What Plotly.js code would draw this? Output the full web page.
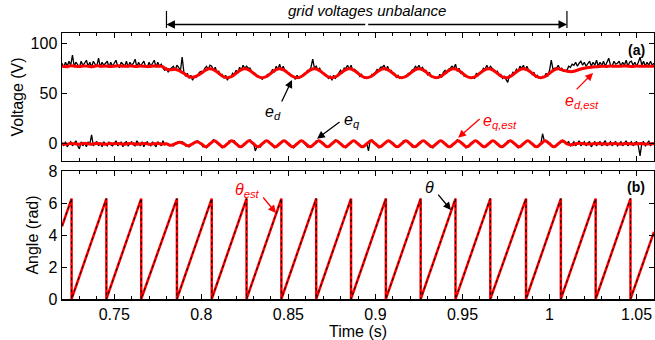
<!DOCTYPE html>
<html><head><meta charset="utf-8">
<script src="https://cdn.plot.ly/plotly-3.0.1.min.js"></script>
<style>html,body{margin:0;padding:0;background:#fff}#chart{width:655px;height:340px}</style>
</head><body><div id="chart"></div>
<script>
// sampling of the measured signals
const measStart = 0.72, measStep = 0.001;
const estStart = 0.72, estStep = 0.0025;

// e_d measured (black)
const edMeas = [
80,76,81,77,82,78,88,77,81,79,
76,82,78,80,83,77,81,76,82,79,
77,85,76,81,78,80,82,76,81,77,
80,83,77,76,81,79,77,82,76,81,
78,80,84,76,81,77,80,82,77,76,
81,77,80,83,76,81,77,79,75,73,
75,71,74,76,77,73,78,76,72,86,71,67,70,65,68,63,67,66,69,71,
72,71,75,77,74,78,77,73,76,71,72,68,69,65,68,63,67,66,70,69,
73,70,76,73,78,75,77,75,75,71,71,69,68,67,66,64,66,66,69,68,
71,74,71,77,74,79,73,77,73,72,70,69,68,67,64,68,65,66,68,69,
70,73,73,76,84,75,77,73,75,71,70,69,68,65,67,63,68,65,68,71,
73,70,75,75,78,74,78,73,74,72,71,67,69,66,65,65,66,66,69,68,
71,74,73,76,76,78,73,77,72,73,70,70,66,68,65,66,66,67,68,70,
70,73,74,77,75,78,74,76,73,73,68,71,67,66,66,65,65,69,66,71,
73,70,74,75,77,75,79,72,75,70,71,67,68,66,66,65,66,65,70,68,
71,71,75,74,78,74,77,75,73,71,72,68,69,65,67,64,61,68,67,71,
70,74,72,77,75,78,73,77,73,72,69,71,66,68,65,65,67,66,70,67,
73,83,74,75,75,78,74,75,72,73,
73,77,76,79,78,81,77,80,82,78,
81,77,80,82,77,81,78,83,77,81,
78,82,77,81,85,78,77,82,79,80,
82,77,81,78,83,77,81,82,78,81,
77,81,86,78,82,77,81,78,82,78,
80];

// e_q measured (black)
const eqMeas = [
1,-2,2,-3,0,2,-2,1,3,-2,
-5,2,-2,1,-3,2,0,9,-2,1,
2,-2,1,-3,2,0,-2,2,-1,-2,
1,3,-2,0,2,-3,1,2,-2,0,
2,-1,-2,3,0,-2,2,-3,1,2,
-1,-2,2,0,-3,2,0,-2,3,-1,
0,-1,-2,-1,-2,1,1,2,1,2,
1,-2,-2,-3,-1,0,2,2,3,1,
0,-3,-2,-4,-2,1,2,4,2,2,
-1,-2,-4,-3,-1,0,3,3,2,3,
0,-1,-3,-3,-2,-1,2,3,4,1,
1,-7,-3,-2,-3,0,1,3,3,2,
0,-2,-4,-3,-1,1,2,2,3,2,
-1,-2,-3,-4,-2,0,2,3,3,1,
0,-3,-2,-3,-2,1,3,3,2,2,
1,-2,-3,-3,-1,0,2,4,3,2,
0,-1,-3,-4,-2,0,1,3,3,2,
-1,-2,-3,-2,-2,1,-7,3,4,1,
0,-2,-4,-3,-1,0,2,3,2,2,
1,-2,-3,-3,-2,0,3,2,3,2,
0,-3,-3,-2,-2,1,2,3,3,1,
-1,-2,-3,-4,-1,0,2,3,3,2,
0,-2,-3,-3,-2,0,1,4,2,2,
1,-1,-4,-3,-2,1,2,3,3,1,
0,-2,-3,-3,-1,0,2,3,3,2,
-1,-2,-3,-2,-2,0,3,3,2,2,
0,-2,-4,-3,-1,1,2,3,3,1,
0,-2,-3,-3,-2,0,10,3,2,2,
1,-1,-3,-2,-2,0,1,2,2,1,
1,2,-2,0,2,-2,1,3,-2,0,
2,-2,1,2,-3,0,2,-2,1,2,
-2,1,3,-2,0,2,-2,1,2,-2,
0,2,-2,1,3,-2,0,2,-2,1,
2,-2,-12,1,2,-2,0,3,-2,1,
0];

// e_d estimated (red)
const edEst = [
77,76.5,77.5,77,76.8,77.3,77,76.6,77.4,77,77.2,76.7,77.1,77.5,76.9,77,77.3,76.8,77.2,77,76.7,77.3,77,76.9,
74,73.5,74,72.5,70,67,66,67.5,
70,73.2,74.5,73.2,70,66.8,65.5,66.8,
70,73.2,74.5,73.2,70,66.8,65.5,66.8,
70,73.2,74.5,73.2,70,66.8,65.5,66.8,
70,73.2,74.5,73.2,70,66.8,65.5,66.8,
70,73.2,74.5,73.2,70,66.8,65.5,66.8,
70,73.2,74.5,73.2,70,66.8,65.5,66.8,
70,73.2,74.5,73.2,70,66.8,65.5,66.8,
70,73.2,74.5,73.2,70,66.8,65.5,66.8,
70,73.2,74.5,73.2,70,66.8,65.5,66.8,
70,73.2,74.5,73.2,70,66.8,65.5,66.8,
70,73.2,74.5,73.2,
72,71.5,72.5,74,75,75.8,76.3,76.6,77,76.8,77.2,77,76.9,77.3,77,76.8,77.2,77,77.1,76.9,77];

// e_q estimated (red)
const eqEst = [
0,-0.5,0.3,0,-0.4,0.5,0,-0.3,0.4,0,-0.5,0.3,0,0.4,-0.3,0,0.5,-0.4,0,0.3,-0.5,0,0.4,-0.3,
0,-1.5,0,1.5, 0,-2,0,2,
0,-3,0,3, 0,-3,0,3, 0,-3,0,3, 0,-3,0,3, 0,-3,0,3, 0,-3,0,3, 0,-3,0,3,
0,-3,0,3, 0,-3,0,3, 0,-3,0,3, 0,-3,0,3, 0,-3,0,3, 0,-3,0,3, 0,-3,0,3,
0,-3,0,3, 0,-3,0,3, 0,-3,0,3, 0,-3,0,3, 0,-3,0,3, 0,-3,0,3, 0,-3,0,3,
0,-1,0,0.5,0,-0.3,0,0.3,0,-0.2,0,0.3,-0.3,0,0.2,-0.2,0,0.3,-0.2,0,0];

// angle: wrap times and ends
const thetaResets = [0.7255,0.7455,0.7655,0.786,0.806,0.826,0.846,0.866,0.886,0.906,0.926,0.946,0.966,0.9865,1.0065,1.0265,1.0465];
const thetaFirst = [0.72, 4.55];
const thetaLast = [1.06, 4.2];
const thetaPeak = 6.28;

const unbalanceStart = 0.78, unbalanceEnd = 1.01;

function times(start, step, n){ const t=[]; for(let i=0;i<n;i++) t.push(+(start+i*step).toFixed(5)); return t; }
const tMeas = times(measStart, measStep, edMeas.length);
const tEst = times(estStart, estStep, edEst.length);

const thX=[thetaFirst[0]], thY=[thetaFirst[1]];
thetaResets.forEach(r=>{thX.push(r,r); thY.push(thetaPeak,0);});
thX.push(thetaLast[0]); thY.push(thetaLast[1]);

const RED='#ff0000';
const traces = [
 {x:tMeas,y:edMeas,xaxis:'x',yaxis:'y',mode:'lines',line:{color:'#000',width:1.3}},
 {x:tMeas,y:eqMeas,xaxis:'x',yaxis:'y',mode:'lines',line:{color:'#000',width:1.3}},
 {x:tEst,y:edEst,xaxis:'x',yaxis:'y',mode:'lines',line:{color:RED,width:3,shape:'spline',smoothing:1}},
 {x:tEst,y:eqEst,xaxis:'x',yaxis:'y',mode:'lines',line:{color:RED,width:3,shape:'spline',smoothing:1}},
 {x:thX,y:thY,xaxis:'x2',yaxis:'y2',mode:'lines',line:{color:RED,width:2.5}},
 {x:thX,y:thY,xaxis:'x2',yaxis:'y2',mode:'lines',line:{color:'#000',width:1,dash:'dot'}}
];

const F='Liberation Sans, Arial, sans-serif';
const axBase = {showline:true,linecolor:'#000',linewidth:1.5,mirror:'ticks',ticks:'inside',ticklen:5,tickcolor:'#000',
  showgrid:false,zeroline:false,tickfont:{family:F,size:16,color:'#000'}};
const xCommon = Object.assign({},axBase,{range:[0.72,1.06],dtick:0.05,tick0:0,
  minor:{dtick:0.01,tick0:0,ticks:'inside',ticklen:3,tickcolor:'#000',showgrid:false}});

function arrow(xref,yref,x,y,ax,ay,color){
 return {xref,yref,x,y,ax,ay,text:'',showarrow:true,arrowhead:2,arrowsize:1.2,arrowwidth:1.3,arrowcolor:color};
}
function label(xref,yref,x,y,text,color,size){
 return {xref,yref,x,y,text,showarrow:false,font:{family:F,size:size||15,color},xanchor:'center',yanchor:'middle'};
}

const layout = {
 width:655,height:340,margin:{l:62,r:1,t:33,b:41},paper_bgcolor:'#fff',plot_bgcolor:'#fff',showlegend:false,
 xaxis:Object.assign({},xCommon,{anchor:'y',showticklabels:false}),
 yaxis:Object.assign({},axBase,{domain:[0.519,1],range:[-17,110],tickvals:[0,50,100],
   title:{text:'Voltage (V)',font:{family:F,size:16,color:'#000'},standoff:3}}),
 xaxis2:Object.assign({},xCommon,{anchor:'y2',title:{text:'Time (s)',font:{family:F,size:16,color:'#000'},standoff:4}}),
 yaxis2:Object.assign({},axBase,{domain:[0,0.481],range:[0,8],dtick:2,
   title:{text:'Angle (rad)',font:{family:F,size:16,color:'#000'},standoff:6}}),
 shapes:[
  {type:'line',xref:'x',yref:'paper',x0:unbalanceStart,x1:unbalanceStart,y0:1.019,y1:1.083,line:{color:'#000',width:1.2}},
  {type:'line',xref:'x',yref:'paper',x0:unbalanceEnd,x1:unbalanceEnd,y0:1.019,y1:1.083,line:{color:'#000',width:1.2}}
 ],
 annotations:[
  {xref:'x',yref:'paper',x:unbalanceStart,y:1.032,axref:'x',ax:(unbalanceStart+unbalanceEnd)/2,ayref:'pixel',ay:0,text:'',showarrow:true,arrowhead:2,arrowsize:1.3,arrowwidth:1.3,arrowcolor:'#000'},
  {xref:'x',yref:'paper',x:unbalanceEnd,y:1.032,axref:'x',ax:(unbalanceStart+unbalanceEnd)/2,ayref:'pixel',ay:0,text:'',showarrow:true,arrowhead:2,arrowsize:1.3,arrowwidth:1.3,arrowcolor:'#000'},
  {xref:'x',yref:'paper',x:(unbalanceStart+unbalanceEnd)/2,y:1.084,yanchor:'middle',text:'<i>grid voltages unbalance</i>',showarrow:false,font:{family:F,size:15,color:'#000'}},
  arrow('x','y',0.8521,63.4,-11,23,'#000'),
  label('x','y',0.8412,31,'<i>e<sub>d</sub></i>','#000',16),
  arrow('x','y',0.8665,5,24,-18,'#000'),
  label('x','y',0.8866,23,'<i>e<sub>q</sub></i>','#000',16),
  arrow('x','y',0.9475,6,23,-20,RED),
  label('x','y',0.9716,22,'<i>e<sub>q,est</sub></i>',RED,16),
  arrow('x','y',1.025,70.4,-18,18,RED),
  label('x','y',1.0187,42,'<i>e<sub>d,est</sub></i>',RED,16),
  {xref:'x',yref:'y',x:1.0497,y:93,text:'<b>(a)</b>',showarrow:false,font:{family:F,size:14,color:'#000'}},
  {xref:'x2',yref:'y2',x:1.0497,y:7.0,text:'<b>(b)</b>',showarrow:false,font:{family:F,size:14,color:'#000'}},
  arrow('x2','y2',0.8429,5.375,-14,-17,RED),
  label('x2','y2',0.8268,6.8,'<i>θ<sub>est</sub></i>',RED,16),
  arrow('x2','y2',0.9434,5.56,-14,-17,'#000'),
  label('x2','y2',0.9308,7.0,'<i>θ</i>','#000',16)
 ]
};
Plotly.newPlot('chart',traces,layout,{staticPlot:true,displayModeBar:false});
</script></body></html>
